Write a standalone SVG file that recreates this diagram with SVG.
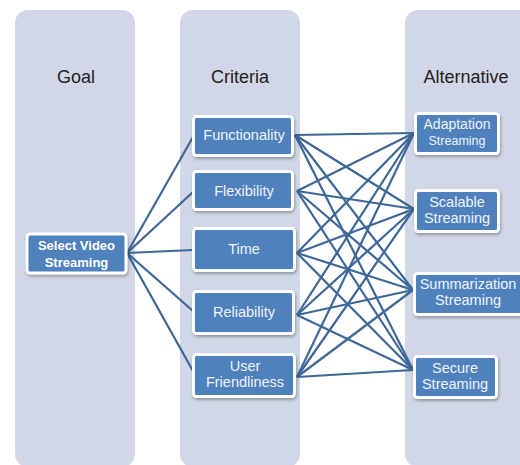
<svg xmlns="http://www.w3.org/2000/svg" width="520" height="465" viewBox="0 0 520 465">
<defs>
<filter id="sh" x="-20%" y="-20%" width="140%" height="150%">
<feDropShadow dx="1" dy="2" stdDeviation="1.5" flood-color="#000" flood-opacity="0.3"/>
</filter>
<style>
.panel{fill:#d1d7e6}
.title{font-family:"Liberation Sans",Arial,sans-serif;font-size:18px;fill:#222;text-anchor:middle}
.box{fill:#4f81bd;stroke:#fff;stroke-width:3;filter:url(#sh)}
.t{font-family:"Liberation Sans",Arial,sans-serif;font-size:14.5px;fill:#eef3fa;text-anchor:middle}
.tb{font-family:"Liberation Sans",Arial,sans-serif;font-size:13px;font-weight:bold;fill:#fff;text-anchor:middle}
.c line{stroke:#3d6797;stroke-width:2.2}
</style>
</defs>
<rect width="520" height="465" fill="#fff"/>
<g id="panels">
<rect class="panel" x="15" y="10" width="120" height="457" rx="13"/>
<rect class="panel" x="180" y="10" width="120" height="457" rx="13"/>
<rect class="panel" x="405" y="10" width="130" height="457" rx="13"/>
<text class="title" x="76" y="83">Goal</text>
<text class="title" x="240" y="83">Criteria</text>
<text class="title" x="466" y="83">Alternative</text>
</g>
<g id="connectors" class="c">
<line x1="127" y1="253" x2="193" y2="137"/>
<line x1="127" y1="253" x2="193" y2="192"/>
<line x1="127" y1="253" x2="193" y2="250"/>
<line x1="127" y1="253" x2="193" y2="311"/>
<line x1="127" y1="253" x2="193" y2="371"/>
<line x1="295" y1="135" x2="414" y2="133"/>
<line x1="295" y1="135" x2="414" y2="209"/>
<line x1="295" y1="135" x2="413" y2="290"/>
<line x1="295" y1="135" x2="413" y2="370"/>
<line x1="297" y1="191" x2="414" y2="133"/>
<line x1="297" y1="191" x2="414" y2="209"/>
<line x1="297" y1="191" x2="413" y2="290"/>
<line x1="297" y1="191" x2="413" y2="370"/>
<line x1="297" y1="253" x2="414" y2="133"/>
<line x1="297" y1="253" x2="414" y2="209"/>
<line x1="297" y1="253" x2="413" y2="290"/>
<line x1="297" y1="253" x2="413" y2="370"/>
<line x1="297" y1="315" x2="414" y2="133"/>
<line x1="297" y1="315" x2="414" y2="209"/>
<line x1="297" y1="315" x2="413" y2="290"/>
<line x1="297" y1="315" x2="413" y2="370"/>
<line x1="297" y1="377" x2="414" y2="133"/>
<line x1="297" y1="377" x2="414" y2="209"/>
<line x1="297" y1="377" x2="413" y2="290"/>
<line x1="297" y1="377" x2="413" y2="370"/>
</g>
<g id="goal">
<rect class="box" x="27" y="234" width="99" height="39" rx="3"/>
<text class="tb" x="76.5" y="250">Select Video</text>
<text class="tb" x="76.5" y="267">Streaming</text>
</g>
<g id="functionality">
<rect class="box" x="193.5" y="116.5" width="99" height="39" rx="3"/>
<text class="t" x="244" y="140">Functionality</text>
</g>
<g id="flexibility">
<rect class="box" x="193.5" y="171.5" width="99" height="38" rx="3"/>
<text class="t" x="244" y="196">Flexibility</text>
</g>
<g id="time">
<rect class="box" x="193.5" y="228.5" width="101" height="42" rx="3"/>
<text class="t" x="244" y="254">Time</text>
</g>
<g id="reliability">
<rect class="box" x="193.5" y="291.5" width="100" height="42" rx="3"/>
<text class="t" x="244" y="317">Reliability</text>
</g>
<g id="user-friendliness">
<rect class="box" x="193.5" y="354.5" width="101" height="42" rx="3"/>
<text class="t" x="245" y="371">User</text>
<text class="t" x="245" y="387">Friendliness</text>
</g>
<g id="adaptation">
<rect class="box" x="415.5" y="113.5" width="83" height="40" rx="3"/>
<text class="t" x="457" y="129" style="font-size:14px">Adaptation</text>
<text class="t" x="457" y="145" style="font-size:12.5px">Streaming</text>
</g>
<g id="scalable">
<rect class="box" x="415.5" y="190.5" width="83" height="41" rx="3"/>
<text class="t" x="457" y="207">Scalable</text>
<text class="t" x="457" y="223">Streaming</text>
</g>
<g id="summarization">
<rect class="box" x="414.5" y="273.5" width="108" height="41" rx="3"/>
<text class="t" x="468" y="289">Summarization</text>
<text class="t" x="468" y="305">Streaming</text>
</g>
<g id="secure">
<rect class="box" x="414.5" y="356.5" width="82" height="41" rx="3"/>
<text class="t" x="455" y="373">Secure</text>
<text class="t" x="455" y="389">Streaming</text>
</g>
</svg>
